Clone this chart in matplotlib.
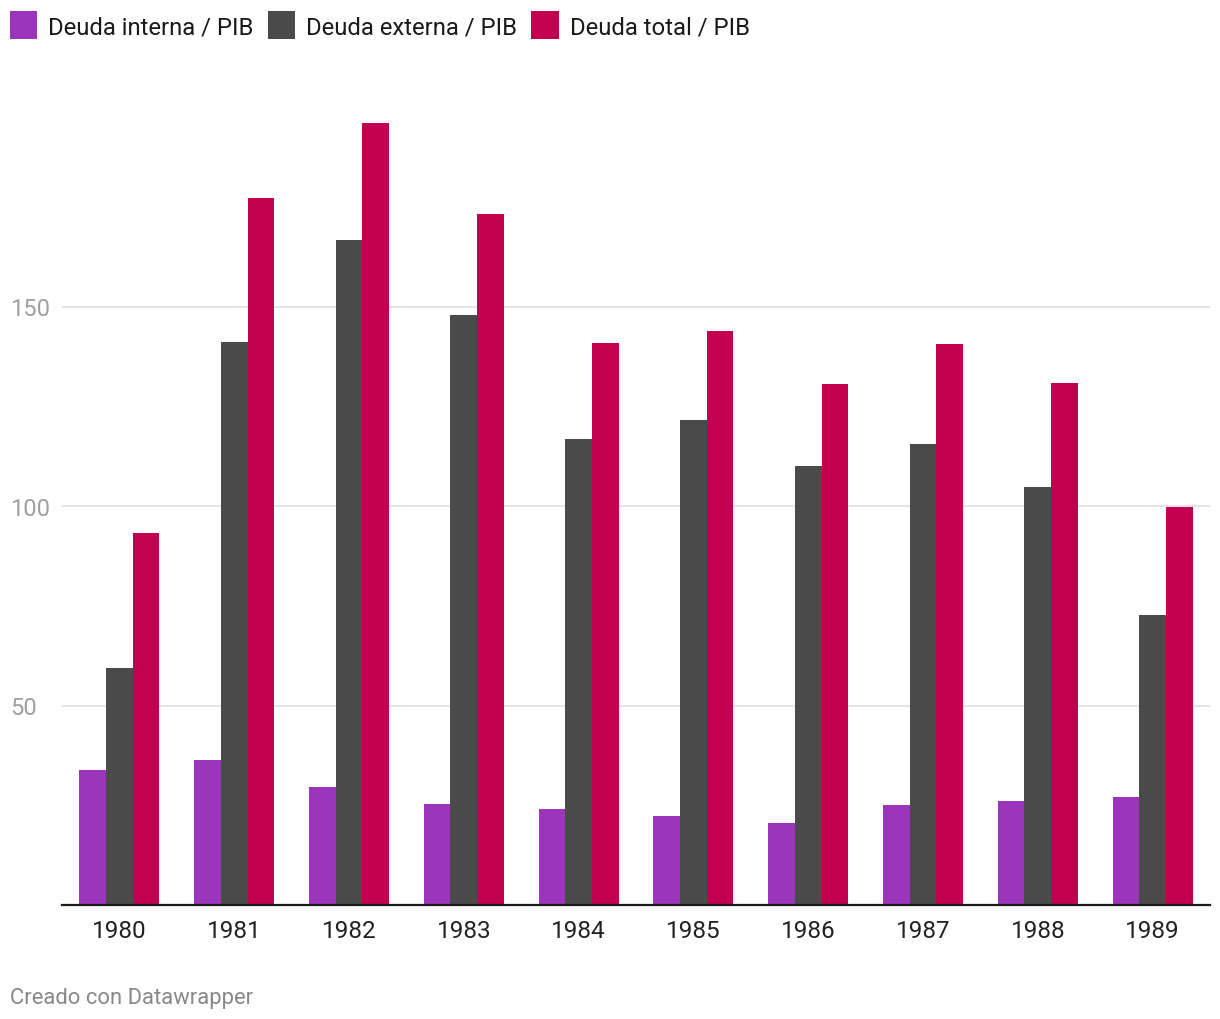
import matplotlib.pyplot as plt
from matplotlib.patches import Patch
import numpy as np

plt.rcParams['font.family'] = ['Roboto', 'DejaVu Sans']

years = ['1980', '1981', '1982', '1983', '1984', '1985', '1986', '1987', '1988', '1989']
interna = [33.8, 36.3, 29.6, 25.3, 24.1, 22.3, 20.6, 25.1, 26.1, 27.1]
externa = [59.4, 141.1, 166.7, 147.9, 116.8, 121.6, 110.0, 115.5, 104.8, 72.7]
total = [93.2, 177.2, 196.0, 173.2, 140.9, 143.9, 130.6, 140.6, 130.8, 99.7]

series = ['Deuda interna / PIB', 'Deuda externa / PIB', 'Deuda total / PIB']
colors = ['#9b35b9', '#4a4a4a', '#c2004f']

W, H = 1220, 1020
fig = plt.figure(figsize=(W / 100, H / 100), dpi=100)
# axes: x 62..1210 px, y 906 (0) .. 108 (200)
ax = fig.add_axes([62 / W, 1 - 906 / H, (1210 - 62) / W, (906 - 108) / H])

x = np.arange(len(years))
bw = 0.232
for i, (vals, c) in enumerate(zip([interna, externa, total], colors)):
    ax.bar(x + (i - 1) * bw, vals, width=bw, color=c, zorder=3, linewidth=0)

ax.set_xlim(-0.5, len(years) - 0.5)
ax.set_ylim(0, 200)
ax.set_yticks([50, 100, 150])
ax.yaxis.grid(True, color='#e2e2e2', linewidth=1.3, zorder=0)
ax.set_xticks(x)
ax.set_xticklabels(years, fontsize=17.5, color='#222222')
ax.tick_params(axis='x', length=0, pad=10)
# y labels left-aligned at x = 10 px
ax.tick_params(axis='y', length=0, labelsize=17, labelcolor='#a0a0a0', pad=52 * 0.72)
for lab in ax.get_yticklabels():
    lab.set_horizontalalignment('left')
for s in ['top', 'right', 'left']:
    ax.spines[s].set_visible(False)
ax.spines['bottom'].set_color('#1a1a1a')
ax.spines['bottom'].set_linewidth(1.6)
ax.spines['bottom'].set_zorder(4)

handles = [Patch(facecolor=c, edgecolor='none') for c in colors]
fig.legend(handles, series, loc='upper left', bbox_to_anchor=(10 / W, 1 - 12 / H),
           ncol=3, frameon=False, fontsize=17.2, handlelength=1.15, handleheight=1.45,
           handletextpad=0.45, columnspacing=0.6, borderpad=0, borderaxespad=0,
           labelcolor='#1a1a1a')

fig.text(10 / W, 1 - 999 / H, 'Creado con Datawrapper', fontsize=15.8, color='#888888', va='center')

fig.savefig('out.png', dpi=100)
